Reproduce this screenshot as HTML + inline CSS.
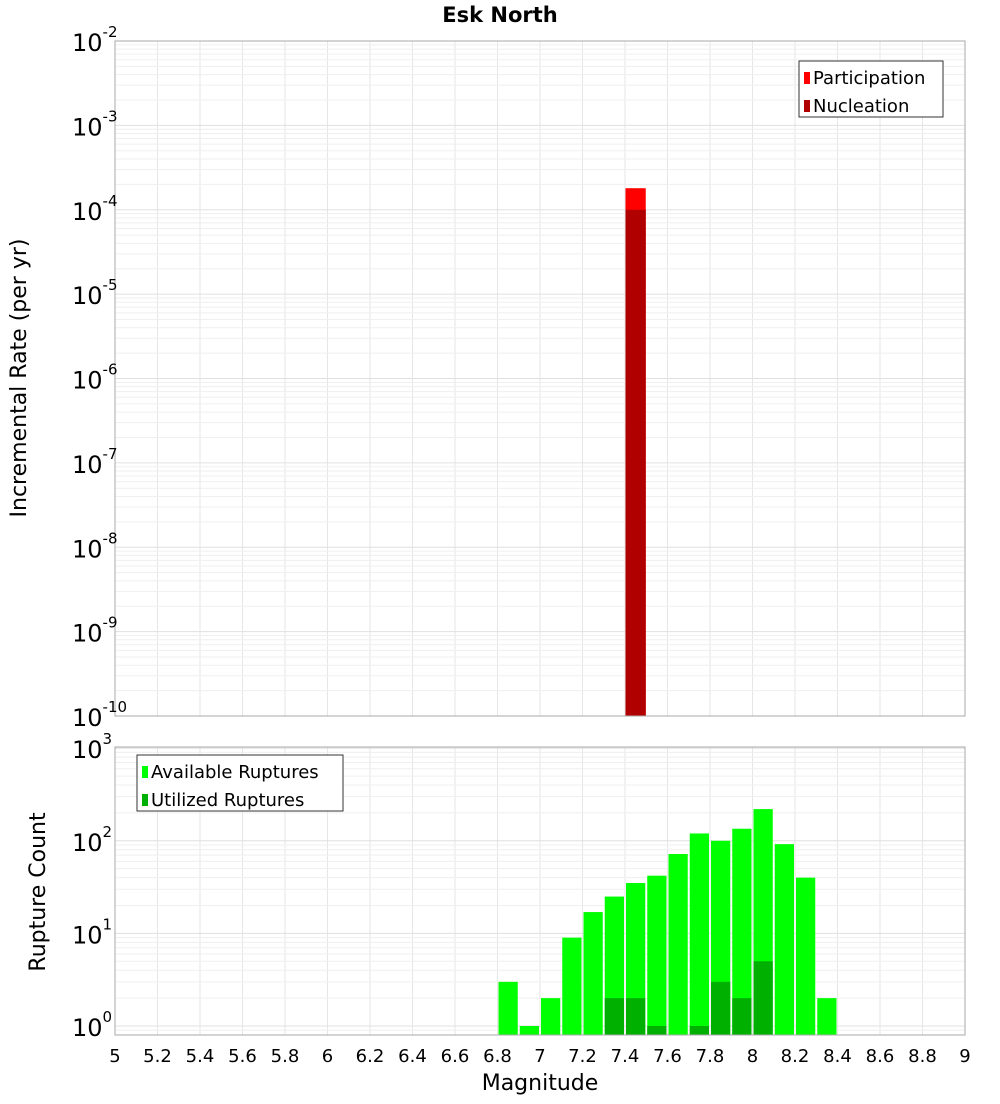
<!DOCTYPE html>
<html><head><meta charset="utf-8"><style>
body{margin:0;background:#fff;font-family:"DejaVu Sans","Liberation Sans",sans-serif;}
svg text{font-family:"DejaVu Sans","Liberation Sans",sans-serif;}
</style></head><body>
<svg id="c" width="1000" height="1100" xmlns="http://www.w3.org/2000/svg">
<text x="500" y="22" text-anchor="middle" font-size="21" font-weight="bold">Esk North</text>
<text transform="translate(26,378) rotate(-90)" text-anchor="middle" font-size="22">Incremental Rate (per yr)</text>
<text transform="translate(45,892) rotate(-90)" text-anchor="middle" font-size="22">Rupture Count</text>
<text x="540" y="1090" text-anchor="middle" font-size="22">Magnitude</text>
<g id="g"></g>
</svg>
<script>
const binCenters=[6.85,6.95,7.05,7.15,7.25,7.35,7.45,7.55,7.65,7.75,7.85,7.95,8.05,8.15,8.25,8.35];
const available=[3,1,2,9,17,25,35,42,72,120,100,135,220,92,40,2];
const utilized=[0,0,0,0,0,2,2,1,0,1,3,2,5,0,0,0];
const rateBins=[7.45];
const participation=[1.8e-4];
const nucleation=[1e-4];
const xTicks=[5,5.2,5.4,5.6,5.8,6,6.2,6.4,6.6,6.8,7,7.2,7.4,7.6,7.8,8,8.2,8.4,8.6,8.8,9];
const topExps=[-2,-3,-4,-5,-6,-7,-8,-9,-10];
const botExps=[3,2,1,0];

const NS="http://www.w3.org/2000/svg",G=document.getElementById('g');
function mk(t,a,p){const e=document.createElementNS(NS,t);for(const k in a)e.setAttribute(k,a[k]);(p||G).appendChild(e);return e;}
const X0=115,X1=965;
const x=m=>X0+(m-5)*(X1-X0)/4;
const T0=41,T1=716;
const yT=v=>T0+(-2-Math.log10(v))*(T1-T0)/8;
const B0=747,B1=1035;
const yB=v=>1026-Math.log10(v)*92.6;
const bw=(X1-X0)/40;

function grid(y0,y1,yf,lo,hi){
  for(const t of xTicks){const l=mk('line',{x1:x(t),x2:x(t),y1:y0,y2:y1,stroke:'#e6e6e6'});
  }
  for(let e=lo;e<=hi;e++)for(let k=1;k<10;k++){const yy=yf(k*Math.pow(10,e));if(yy<y0||yy>y1)continue;
    const l=mk('line',{x1:X0,x2:X1,y1:yy,y2:yy,stroke:k==1?'#e0e0e0':'#efefef'});
    }
}
grid(T0,T1,yT,-10,-3);
grid(B0,B1,yB,-1,3);

// top bars
rateBins.forEach((m,i)=>{
  let r=mk('rect',{x:x(m)-bw/2+0.5,y:yT(participation[i]),width:bw-1,height:T1-yT(participation[i]),fill:'#ff0000'});
  
  r=mk('rect',{x:x(m)-bw/2+0.5,y:yT(nucleation[i]),width:bw-1,height:T1-yT(nucleation[i]),fill:'#b00000'});
  
});
// bottom bars
binCenters.forEach((m,i)=>{
  let r=mk('rect',{x:x(m)-bw/2+1,y:yB(available[i]),width:bw-2,height:B1-yB(available[i]),fill:'#00ff00'});
  
  if(utilized[i]>0){r=mk('rect',{x:x(m)-bw/2+1,y:yB(utilized[i]),width:bw-2,height:B1-yB(utilized[i]),fill:'#00b000'});
  }
});
// frames
let f=mk('rect',{x:X0,y:T0,width:X1-X0,height:T1-T0,fill:'none',stroke:'#aaa'});

f=mk('rect',{x:X0,y:B0,width:X1-X0,height:B1-B0,fill:'none',stroke:'#aaa'});

// y tick labels
function ylab(e,yy,name){const t=mk('text',{x:72,y:yy+10,'font-size':24});
  
  t.textContent='10';const s=mk('tspan',{dy:-14,'font-size':15},t);s.textContent=e;}
topExps.forEach(e=>ylab(e,yT(Math.pow(10,e)),'top-y-tick-label'));
botExps.forEach(e=>ylab(e,yB(Math.pow(10,e)),'bottom-y-tick-label'));
xTicks.forEach(t=>{const l=mk('text',{x:x(t),y:1062,'text-anchor':'middle','font-size':18});
  
  l.textContent=String(t);});
// legends
function legend(x0,y0,w,items,name){
  const g=mk('g',{});
  mk('rect',{x:x0,y:y0,width:w,height:56,fill:'#fff',stroke:'#333'},g);
  items.forEach((it,i)=>{
    mk('rect',{x:x0+5,y:y0+11+i*28,width:6,height:12,fill:it[1]},g);
    const t=mk('text',{x:x0+14,y:y0+23+i*28,'font-size':18},g);t.textContent=it[0];
    
  });
}
legend(799,61,144,[['Participation','#ff0000'],['Nucleation','#b00000']],'top-legend');
legend(137,755,206,[['Available Ruptures','#00ff00'],['Utilized Ruptures','#00b000']],'bottom-legend');
</script>
</body></html>
